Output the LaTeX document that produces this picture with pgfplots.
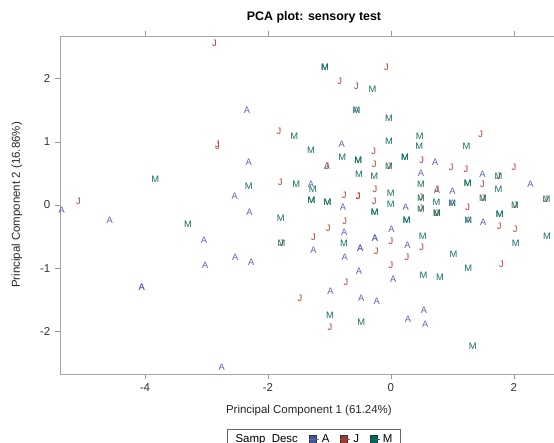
\documentclass[border=0pt]{standalone}
\usepackage{fontspec}
\setmainfont{Liberation Sans}
\usepackage{pgfplots}
\pgfplotsset{compat=1.18}
\definecolor{cA}{RGB}{88,102,172}
\definecolor{cJ}{RGB}{176,62,50}
\definecolor{cM}{RGB}{18,112,98}
\definecolor{fA}{RGB}{68,86,148}
\definecolor{fJ}{RGB}{162,58,46}
\definecolor{fM}{RGB}{1,102,94}

\pgfplotstableread{
x y
-5.35 -0.08
-4.57 -0.24
-4.05 -1.30
-4.05 -1.30
-3.04 -0.56
-3.02 -0.95
-2.75 -2.56
-2.54 0.13
-2.53 -0.83
-2.30 -0.11
-2.27 -0.91
-2.31 0.67
-2.34 1.49
-0.56 1.50
-0.80 0.96
-1.04 0.61
-1.30 0.32
0.49 0.50
0.72 0.67
1.49 0.49
2.27 0.33
0.75 0.24
1.00 0.21
-0.78 -0.03
0.24 -0.04
1.00 0.02
1.50 -0.28
1.26 -0.24
-0.76 -0.43
0.01 -0.38
-1.26 -0.71
-0.50 -0.68
-0.50 -0.68
-0.26 -0.53
-0.26 -0.53
0.27 -0.63
-0.75 -0.82
-0.52 -1.05
0.04 -1.18
-0.98 -1.37
-0.48 -1.47
-0.23 -1.52
0.28 -1.81
0.54 -1.67
0.56 -1.88
}\tabA

\pgfplotstableread{
x y
-5.08 0.05
-2.87 2.55
-2.82 0.96
-2.82 0.93
-1.82 1.16
-1.80 0.36
-0.07 2.18
-0.83 1.95
-0.56 1.87
-0.28 0.84
-0.27 0.65
-0.03 0.61
-1.04 0.61
0.50 0.70
0.98 0.60
1.22 0.56
1.46 1.11
2.00 0.60
1.49 0.32
-0.76 0.16
-0.53 0.13
-0.53 0.13
-0.26 0.24
-0.27 0.05
0.49 0.12
0.49 -0.06
1.25 -0.03
1.50 0.11
2.02 0.00
2.52 0.09
1.75 0.45
0.75 0.24
-1.78 -0.61
-0.75 -0.26
-1.02 -0.37
-1.26 -0.51
-0.24 -0.73
0.00 -0.58
0.50 -0.67
1.76 -0.34
2.02 -0.38
0.26 -0.83
0.00 -0.95
1.80 -0.93
-0.73 -1.22
-1.48 -1.47
-0.99 -1.94
0.75 -0.13
}\tabJ

\pgfplotstableread{
x y
-3.83 0.41
-3.30 -0.30
-2.31 0.30
-1.79 -0.21
-1.78 -0.61
-1.57 1.09
-1.54 0.33
-1.30 0.86
-1.27 0.25
-1.29 0.07
-1.29 0.07
-1.03 0.04
-1.03 0.04
-1.07 2.17
-1.07 2.17
-0.30 1.83
-0.56 1.50
-0.03 1.37
-0.79 0.75
-0.53 0.71
-0.53 0.71
-0.52 0.49
-0.27 0.46
-0.03 1.01
-0.03 0.61
0.23 0.75
0.23 0.75
0.47 1.09
0.46 0.92
1.23 0.93
0.49 0.32
1.25 0.34
1.25 0.34
1.75 0.45
1.75 0.25
0.00 0.19
0.00 0.01
-0.26 -0.12
-0.26 -0.12
0.26 -0.24
0.26 -0.24
0.49 0.11
0.49 -0.07
0.74 0.05
0.75 -0.13
0.75 -0.13
1.00 0.02
1.26 -0.24
1.50 0.11
1.77 -0.14
1.77 -0.14
2.02 0.00
2.53 0.09
-0.76 -0.61
0.52 -0.49
2.03 -0.60
2.54 -0.50
1.02 -0.78
1.26 -1.00
0.53 -1.11
0.80 -1.15
-0.99 -1.75
-0.48 -1.85
1.33 -2.24
}\tabM

\begin{document}
\begin{tikzpicture}
\useasboundingbox (-45pt,-51.75pt) rectangle (370.5pt,280.5pt);
\begin{axis}[at={(0,0)},anchor=south west,scale only axis,
  width=381pt,height=253.5pt,
  xmin=-5.38,xmax=2.88,ymin=-2.67,ymax=2.67,
  xtick={-4,-2,0,2},ytick={-2,-1,0,1,2},
  axis line style={black!35},tick style={black!40},
  tick align=outside,major tick length=3.75pt,
  tick label style={font=\fontsize{8.6}{10}\selectfont,text=black!80},
  /pgf/number format/assume math mode=true,
  clip=false,
  legend columns=-1,
  legend style={at={(0.5,0)},anchor=north,yshift=-41.5pt,
    draw=black!60,font=\fontsize{8.6}{10}\selectfont,
    inner xsep=4pt,inner ysep=1.5pt,
    /tikz/every even column/.append style={column sep=6pt}},
  legend cell align=left,
  every axis plot/.append style={only marks,mark=text,text mark as node=true,
    text mark style={font=\fontsize{7}{8}\selectfont}}]
\addlegendimage{empty legend}\addlegendentry{Samp\_Desc}
\addplot[color=cA,text mark={A},
  legend image code/.code={\draw[draw=black!80,fill=fA] (0pt,-2.7pt) rectangle (5.4pt,2.7pt);\path (0pt,0pt) -- (7.5pt,0pt);}]
  table {\tabA};\addlegendentry{A}
\addplot[color=cJ,text mark={J},
  legend image code/.code={\draw[draw=black!80,fill=fJ] (0pt,-2.7pt) rectangle (5.4pt,2.7pt);\path (0pt,0pt) -- (7.5pt,0pt);}]
  table {\tabJ};\addlegendentry{J}
\addplot[color=cM,text mark={M},
  legend image code/.code={\draw[draw=black!80,fill=fM] (0pt,-2.7pt) rectangle (5.4pt,2.7pt);\path (0pt,0pt) -- (7.5pt,0pt);}]
  table {\tabM};\addlegendentry{M}
\node[font=\bfseries\fontsize{9.3}{11}\selectfont] at ([yshift=14pt]axis description cs:0.5,1) {PCA plot: sensory test};
\node[font=\fontsize{8.6}{10}\selectfont,text=black!85] at ([yshift=-27.75pt]axis description cs:0.49,0) {Principal Component 1 (61.24\%)};
\node[rotate=90,font=\fontsize{8.6}{10}\selectfont,text=black!85] at ([xshift=-32.25pt]axis description cs:0,0.5) {Principal Component 2 (16.86\%)};
\end{axis}
\end{tikzpicture}
\end{document}
